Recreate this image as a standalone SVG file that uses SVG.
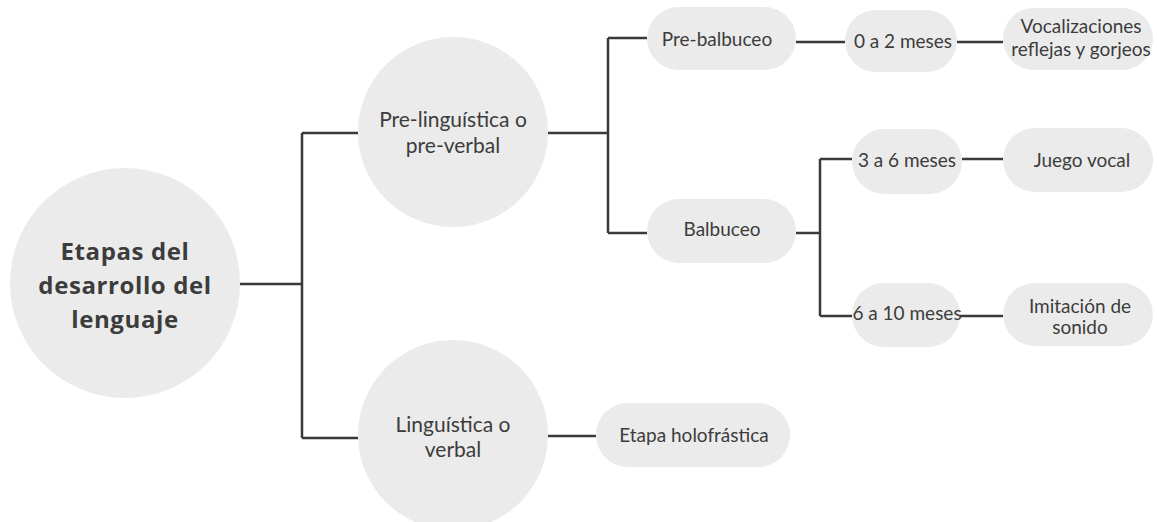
<svg xmlns="http://www.w3.org/2000/svg" width="1157" height="522" viewBox="0 0 1157 522">
<style>
.n{fill:#ebebeb}
.t{font-family:Lato,"Open Sans",sans-serif;font-size:19px;fill:#3c3c3c;text-anchor:middle}
.k{font-family:Lato,"Open Sans",sans-serif;font-size:21px;fill:#3c3c3c;text-anchor:middle}
.b{font-family:"Open Sans",Lato,sans-serif;font-size:24px;font-weight:bold;fill:#3c3c3c;text-anchor:middle;letter-spacing:0.6px}
.c{fill:none;stroke:#3a3a3a;stroke-width:2.5}
</style>
<rect width="1157" height="522" fill="#ffffff"/>
<g id="connectors" class="c">
<path d="M240 284H302M302 133V438M302 133H358M302 438H358"/>
<path d="M548 133H608M608 38V233M608 38H647M608 233H647"/>
<path d="M796 42H845M957 42H1003"/>
<path d="M796 233H820M820 159V316M820 159H852M820 316H852M962 159H1003M960 316H1003"/>
<path d="M548 436H596"/>
</g>
<g id="root"><circle class="n" cx="125" cy="283" r="115"/>
<text class="b" x="125" y="260">Etapas del</text><text class="b" x="125" y="294">desarrollo del</text><text class="b" x="125" y="328">lenguaje</text></g>
<g id="preling"><circle class="n" cx="453" cy="132" r="95"/>
<text class="k" x="453" y="127">Pre-linguística o</text><text class="k" x="453" y="153">pre-verbal</text></g>
<g id="ling"><circle class="n" cx="453" cy="435" r="95"/>
<text class="k" x="453" y="432">Linguística o</text><text class="k" x="453" y="457">verbal</text></g>
<g id="prebalbuceo"><rect class="n" x="647" y="7" width="149" height="63" rx="31.5"/><text class="t" x="717" y="46">Pre-balbuceo</text></g>
<g id="balbuceo"><rect class="n" x="647" y="199" width="149" height="64" rx="32"/><text class="t" x="722" y="236">Balbuceo</text></g>
<g id="m0a2"><rect class="n" x="845" y="10" width="112" height="62" rx="31"/><text class="t" x="903" y="48">0 a 2 meses</text></g>
<g id="vocalizaciones"><rect class="n" x="1003" y="8" width="150" height="62" rx="31"/><text class="t" x="1081" y="33">Vocalizaciones</text><text class="t" x="1081" y="56">reflejas y gorjeos</text></g>
<g id="m3a6"><rect class="n" x="852" y="129" width="110" height="65" rx="32.5"/><text class="t" x="907" y="167">3 a 6 meses</text></g>
<g id="juego"><rect class="n" x="1003" y="128" width="150" height="64" rx="32"/><text class="t" x="1082" y="167">Juego vocal</text></g>
<g id="m6a10"><rect class="n" x="852" y="283" width="108" height="64" rx="32"/><text class="t" x="907" y="320">6 a 10 meses</text></g>
<g id="imitacion"><rect class="n" x="1003" y="283" width="150" height="63" rx="31.5"/><text class="t" x="1080" y="313">Imitación de</text><text class="t" x="1080" y="334">sonido</text></g>
<g id="holofrastica"><rect class="n" x="596" y="403" width="194" height="64" rx="32"/><text class="t" x="694" y="442">Etapa holofrástica</text></g>
</svg>
